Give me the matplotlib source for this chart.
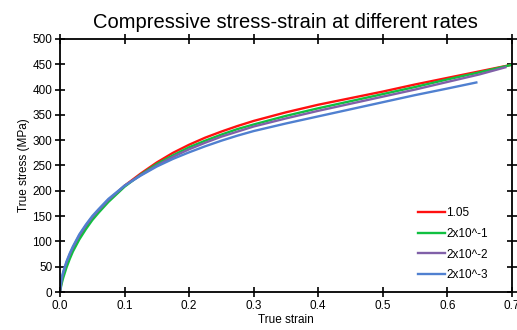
import matplotlib
matplotlib.use("Agg")
import matplotlib.pyplot as plt

plt.rcParams['font.family'] = ['Liberation Sans', 'DejaVu Sans']

labels = ["1.05", "2x10^-1", "2x10^-2", "2x10^-3"]
colors = ["#ff1010", "#10c040", "#8060a8", "#5080d0"]

x_red = [0, 0.0025, 0.005, 0.01, 0.015, 0.02, 0.03, 0.04, 0.05, 0.06, 0.075, 0.1, 0.125, 0.15, 0.175, 0.2, 0.225, 0.25, 0.275, 0.3, 0.35, 0.4, 0.45, 0.5, 0.55, 0.6, 0.65, 0.7]
y_red = [0, 22, 35, 55, 71, 85, 108, 128, 145, 160, 180, 210, 234, 256, 275, 291, 305, 317, 328, 338, 355, 370, 383, 396, 410, 423, 436, 449]

x_green = [0, 0.0025, 0.005, 0.01, 0.015, 0.02, 0.03, 0.04, 0.05, 0.06, 0.075, 0.1, 0.125, 0.15, 0.175, 0.2, 0.225, 0.25, 0.275, 0.3, 0.35, 0.4, 0.45, 0.5, 0.55, 0.6, 0.65, 0.7]
y_green = [0, 16, 28, 48, 65, 80, 104, 124, 142, 157, 178, 208, 232, 253, 270, 286, 299, 311, 322, 331, 348, 363, 377, 391, 405, 420, 434, 449]

x_purple = [0, 0.0025, 0.005, 0.01, 0.015, 0.02, 0.03, 0.04, 0.05, 0.06, 0.075, 0.1, 0.125, 0.15, 0.175, 0.2, 0.225, 0.25, 0.275, 0.3, 0.35, 0.4, 0.45, 0.5, 0.55, 0.6, 0.65, 0.69]
y_purple = [0, 25, 38, 58, 74, 88, 112, 131, 148, 162, 182, 210, 231, 250, 267, 282, 295, 307, 317, 327, 343, 358, 372, 386, 400, 415, 430, 444]

x_blue = [0, 0.0025, 0.005, 0.01, 0.015, 0.02, 0.03, 0.04, 0.05, 0.06, 0.075, 0.1, 0.125, 0.15, 0.175, 0.2, 0.225, 0.25, 0.275, 0.3, 0.35, 0.4, 0.45, 0.5, 0.55, 0.6, 0.645]
y_blue = [0, 27, 40, 60, 76, 90, 114, 133, 150, 164, 184, 210, 230, 248, 263, 276, 288, 299, 309, 318, 333, 347, 361, 375, 389, 402, 414]

series = [(x_red, y_red), (x_green, y_green), (x_purple, y_purple), (x_blue, y_blue)]

fig = plt.figure(figsize=(5.17, 3.30), dpi=100)
ax = fig.add_axes([0.116, 0.115, 0.874, 0.767])

for (xs, ys), lab, c in zip(series, labels, colors):
    ax.plot(xs, ys, color=c, lw=1.7, label=lab, solid_joinstyle='round')

ax.set_xlim(0, 0.7)
ax.set_ylim(0, 500)
ax.set_xticks([0, 0.1, 0.2, 0.3, 0.4, 0.5, 0.6, 0.7])
ax.set_xticklabels(["0.0", "0.1", "0.2", "0.3", "0.4", "0.5", "0.6", "0.7"])
ax.set_yticks(range(0, 501, 50))
ax.tick_params(direction='inout', length=7, width=1.2, labelsize=8.5,
               top=True, right=True, pad=2)
for s in ax.spines.values():
    s.set_linewidth(1.3)
ax.set_xlabel("True strain", fontsize=8.5, labelpad=2)
ax.set_ylabel("True stress (MPa)", fontsize=8.5, labelpad=2)
ax.set_title("Compressive stress-strain at different rates", fontsize=14.5, pad=8)

ax.legend(loc='lower right', frameon=False, fontsize=8.5, handlelength=2.3,
          handletextpad=0.1, labelspacing=0.75, bbox_to_anchor=(0.97, 0.0))

fig.savefig("out.png", dpi=100)
